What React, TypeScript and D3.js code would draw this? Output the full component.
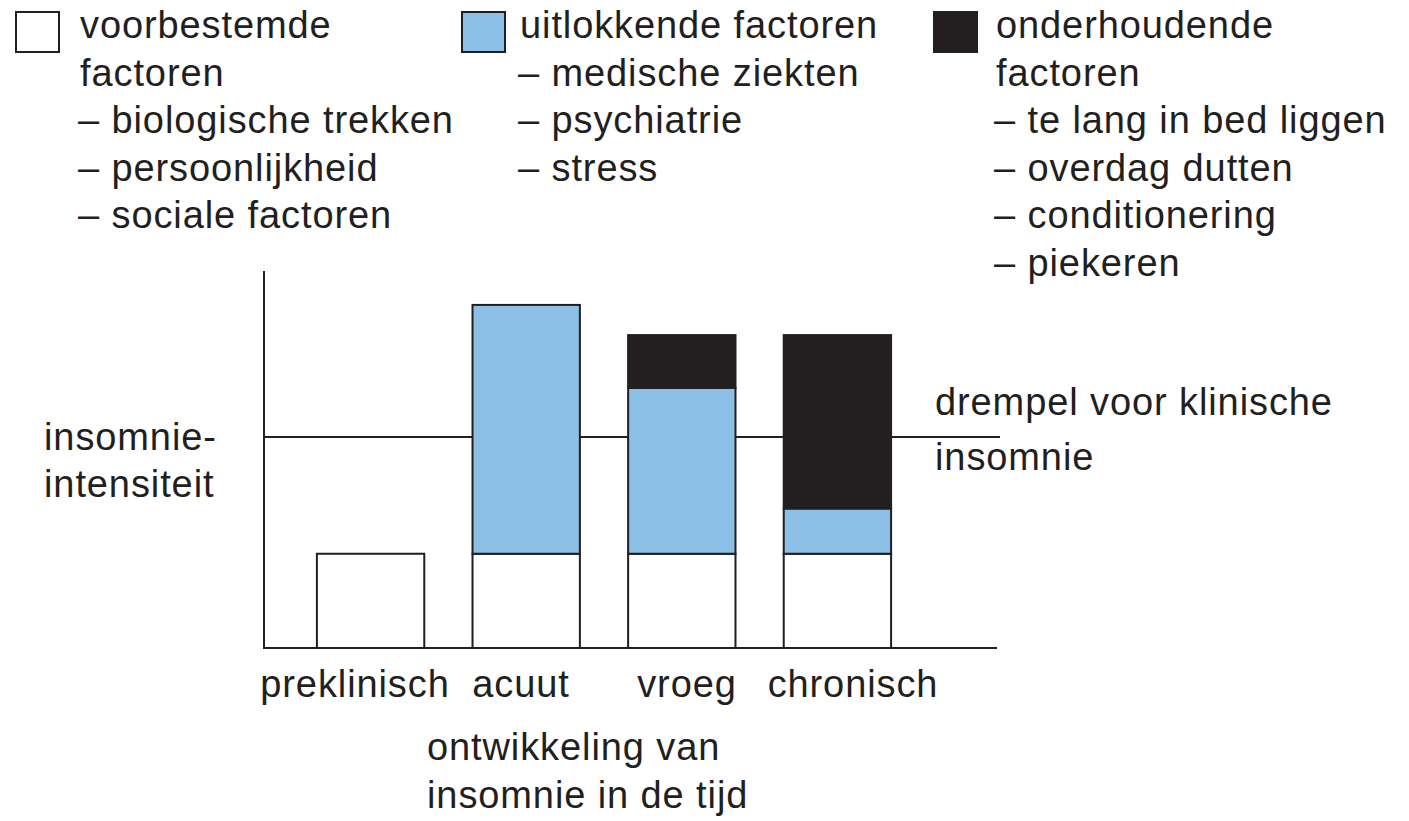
import React, { useEffect, useRef } from "react";
import * as d3 from "d3";

// stages on the x axis
const stages = ["preklinisch", "acuut", "vroeg", "chronisch"];

// stacked factor heights per stage (0-100 intensity units)
const voorbestemd = [25, 25, 25, 25];
const uitlokkend = [0, 66, 44, 12];
const onderhoudend = [0, 0, 14, 46];

const threshold = 56;

const seriesKeys = ["voorbestemd", "uitlokkend", "onderhoudend"];
const seriesColors = ["#ffffff", "#8bbfe6", "#231f20"];

const legendTitles = [
  ["voorbestemde", "factoren"],
  ["uitlokkende factoren"],
  ["onderhoudende", "factoren"],
];
const legendItems = [
  ["biologische trekken", "persoonlijkheid", "sociale factoren"],
  ["medische ziekten", "psychiatrie", "stress"],
  ["te lang in bed liggen", "overdag dutten", "conditionering", "piekeren"],
];

const INK = "#231f20";
const FONT = "'Liberation Sans', Arial, Helvetica, sans-serif";

const App = () => {
  const ref = useRef<SVGSVGElement>(null);

  useEffect(() => {
    const svg: any = d3.select(ref.current);
    svg.selectAll("*").remove();

    const x = d3
      .scaleBand()
      .domain(stages)
      .range([264, 944])
      .paddingInner(0.31)
      .paddingOuter(0.34);
    // labels are spread a little wider than the bars in the original
    const xLabel = d3.scalePoint().domain(stages).range([355, 853]);
    const y = d3.scaleLinear().domain([0, 100]).range([648, 271]);

    // threshold line behind the bars
    svg
      .append("line")
      .attr("x1", 264)
      .attr("x2", 1000)
      .attr("y1", y(threshold))
      .attr("y2", y(threshold))
      .attr("stroke", INK)
      .attr("stroke-width", 2);

    // stacked bars
    const table = stages.map((s, i) => ({
      stage: s,
      voorbestemd: voorbestemd[i],
      uitlokkend: uitlokkend[i],
      onderhoudend: onderhoudend[i],
    }));
    const stacked = d3.stack<any>().keys(seriesKeys)(table);

    svg
      .selectAll(".layer")
      .data(stacked)
      .enter()
      .append("g")
      .attr("class", "layer")
      .attr("fill", (_d: any, i: number) => seriesColors[i])
      .selectAll("rect")
      .data((d: any) => d.filter((p: any) => p[1] - p[0] > 0))
      .enter()
      .append("rect")
      .attr("x", (d: any) => x(d.data.stage))
      .attr("width", x.bandwidth())
      .attr("y", (d: any) => y(d[1]))
      .attr("height", (d: any) => y(d[0]) - y(d[1]))
      .attr("stroke", INK)
      .attr("stroke-width", 2);

    // axes
    svg
      .append("line")
      .attr("x1", 264)
      .attr("x2", 264)
      .attr("y1", y(100))
      .attr("y2", y(0))
      .attr("stroke", INK)
      .attr("stroke-width", 2);
    svg
      .append("line")
      .attr("x1", 263)
      .attr("x2", 997)
      .attr("y1", y(0))
      .attr("y2", y(0))
      .attr("stroke", INK)
      .attr("stroke-width", 2);

    const text = (tx: number, ty: number, s: string, anchor = "start") =>
      svg
        .append("text")
        .attr("x", tx)
        .attr("y", ty)
        .attr("text-anchor", anchor)
        .attr("fill", INK)
        .style("font-family", FONT)
        .style("font-size", "38px")
        .style("letter-spacing", "0.9px")
        .text(s);

    // category labels
    stages.forEach((s) => text(xLabel(s) as number, 697, s, "middle"));

    text(427, 760, "ontwikkeling van");
    text(427, 808, "insomnie in de tijd");
    text(44, 450, "insomnie-");
    text(44, 497, "intensiteit");
    text(935, 415, "drempel voor klinische");
    text(935, 470, "insomnie");

    // legend
    const swatchX = [16, 462, 934];
    const textX = [80, 520, 996];
    legendTitles.forEach((title, i) => {
      svg
        .append("rect")
        .attr("x", swatchX[i])
        .attr("y", 12)
        .attr("width", 43)
        .attr("height", 40)
        .attr("fill", seriesColors[i])
        .attr("stroke", INK)
        .attr("stroke-width", 2);
      let line = 0;
      title.forEach((t) => {
        text(textX[i], 38 + line * 47.5, t);
        line++;
      });
      legendItems[i].forEach((t) => {
        text(textX[i] - 2, 38 + line * 47.5, "\u2013 " + t);
        line++;
      });
    });
  }, []);

  return (
    <svg
      ref={ref}
      width={1409}
      height={821}
      style={{ position: "absolute", left: 0, top: 0, background: "#fff" }}
    />
  );
};

export default App;
